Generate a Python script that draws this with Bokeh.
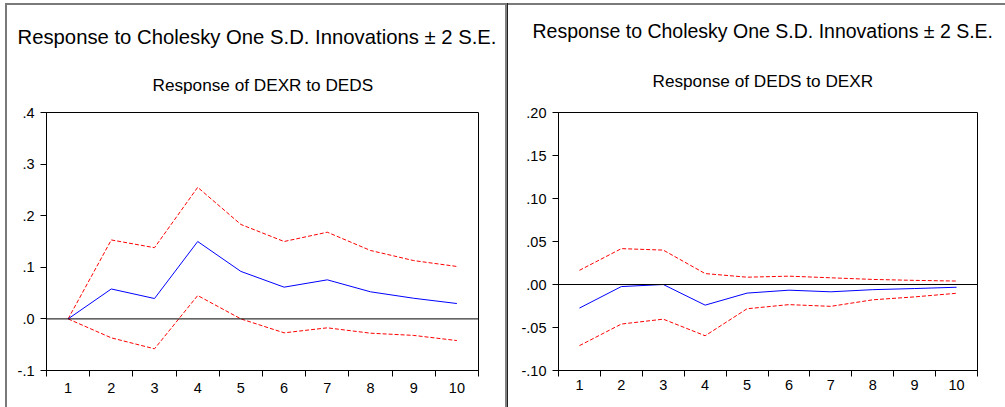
from bokeh.plotting import figure
from bokeh.layouts import row
from bokeh.models import Range1d, FixedTicker, Span, Title, InlineStyleSheet
from bokeh.embed import file_html
from bokeh.resources import INLINE

# ---------------- data ----------------
periods = [1, 2, 3, 4, 5, 6, 7, 8, 9, 10]
period_labels = ["1", "2", "3", "4", "5", "6", "7", "8", "9", "10"]

main_title = "Response to Cholesky One S.D. Innovations \u00b1 2 S.E."

# Response of DEXR to DEDS
dexr_title = "Response of DEXR to DEDS"
dexr_resp = [0.0, 0.058, 0.0395, 0.150, 0.092, 0.0615, 0.0757, 0.0525, 0.040, 0.0298]
dexr_upper = [0.0, 0.153, 0.138, 0.255, 0.183, 0.150, 0.168, 0.1326, 0.113, 0.1016]
dexr_lower = [0.0, -0.0367, -0.058, 0.0453, 0.0, -0.027, -0.0173, -0.0277, -0.032, -0.042]
dexr_yticks = [-0.1, 0.0, 0.1, 0.2, 0.3, 0.4]
dexr_ylabels = ["-.1", ".0", ".1", ".2", ".3", ".4"]

# Response of DEDS to DEXR
deds_title = "Response of DEDS to DEXR"
deds_resp = [-0.0274, -0.0024, 0.0, -0.024, -0.010, -0.0066, -0.0085, -0.006, -0.0047, -0.0032]
deds_upper = [0.0165, 0.0417, 0.040, 0.0127, 0.0085, 0.0097, 0.0078, 0.0059, 0.0048, 0.004]
deds_lower = [-0.0711, -0.046, -0.0403, -0.0596, -0.0282, -0.0234, -0.0254, -0.0178, -0.0144, -0.0102]
deds_yticks = [-0.10, -0.05, 0.0, 0.05, 0.10, 0.15, 0.20]
deds_ylabels = ["-.10", "-.05", ".00", ".05", ".10", ".15", ".20"]

FONT = "Liberation Sans"


def make_panel(w, h, borders, yticks, ylabels, resp, upper, lower, sub_text,
               main_size, main_offset, main_standoff, sub_offset, sub_standoff,
               x_standoff, css):
    bl, br, bt, bb = borders
    p = figure(width=w, height=h, title=None,
               x_range=Range1d(periods[0] - 0.5, periods[-1] + 0.5),
               y_range=Range1d(yticks[0], yticks[-1]),
               output_backend="svg", toolbar_location=None,
               min_border_left=bl, min_border_right=br,
               min_border_top=bt, min_border_bottom=bb,
               border_fill_color=None, background_fill_color="white",
               outline_line_color="black", outline_line_width=1,
               stylesheets=[InlineStyleSheet(css=css)])
    p.grid.visible = False

    # subtitle (closest to the frame), then main title
    p.add_layout(Title(text=sub_text, text_font=FONT, text_font_size="17.2px",
                       text_font_style="normal", text_color="black",
                       align="left", offset=sub_offset, standoff=sub_standoff,
                       vertical_align="middle"), "above")
    p.add_layout(Title(text=main_title, text_font=FONT, text_font_size=main_size,
                       text_font_style="normal", text_color="black",
                       align="left", offset=main_offset, standoff=main_standoff,
                       vertical_align="middle"), "above")

    bounds = [x - 0.5 for x in periods] + [periods[-1] + 0.5]
    xa = p.xaxis[0]
    xa.axis_label = None
    xa.axis_label_standoff = 0
    xa.ticker = FixedTicker(ticks=periods, minor_ticks=bounds)
    xa.major_label_overrides = {x: l for x, l in zip(periods, period_labels)}
    xa.major_tick_line_color = None
    xa.major_tick_out = 6
    xa.major_tick_in = 0
    xa.minor_tick_line_color = "black"
    xa.minor_tick_out = 6
    xa.minor_tick_in = 0
    xa.major_label_standoff = x_standoff
    xa.axis_line_color = "black"
    xa.major_label_text_font = FONT
    xa.major_label_text_font_size = "14.5px"
    xa.major_label_text_color = "black"

    ya = p.yaxis[0]
    ya.ticker = FixedTicker(ticks=yticks)
    ya.major_label_overrides = {v: l for v, l in zip(yticks, ylabels)}
    ya.major_tick_out = 6
    ya.major_tick_in = 0
    ya.major_tick_line_color = "black"
    ya.minor_tick_line_color = None
    ya.major_label_standoff = 6
    ya.axis_line_color = "black"
    ya.major_label_text_font = FONT
    ya.major_label_text_font_size = "14.5px"
    ya.major_label_text_color = "black"

    p.add_layout(Span(location=0, dimension="width", line_color="black", line_width=1))

    p.line(periods, upper, line_color="#FF0000", line_width=1, line_dash="4 2")
    p.line(periods, lower, line_color="#FF0000", line_width=1, line_dash="4 2")
    p.line(periods, resp, line_color="#0000FF", line_width=1)
    return p


css_left = (":host { background-image: linear-gradient(#7a7a7a,#7a7a7a), "
            "linear-gradient(#7a7a7a,#7a7a7a), linear-gradient(#808080,#808080); "
            "background-position: 5px 3px, 5px 3px, 505px 3px; "
            "background-size: 2px 100%, 100% 2px, 2px 100%; background-repeat: no-repeat; }")
css_right = (":host { background-image: linear-gradient(#202020,#202020), "
             "linear-gradient(#7a7a7a,#7a7a7a); "
             "background-position: 0px 3px, 0px 3px; "
             "background-size: 1px 100%, 100% 2px; background-repeat: no-repeat; }")

p1 = make_panel(507, 407, (46, 29, 112, 37), dexr_yticks, dexr_ylabels,
                dexr_resp, dexr_upper, dexr_lower, dexr_title,
                "20.3px", -29, 18, 106, 33, 6, css_left)
p2 = make_panel(498, 407, (51, 28, 110, 33), deds_yticks, deds_ylabels,
                deds_resp, deds_upper, deds_lower, deds_title,
                "19.5px", -26, 13, 94, 41, 3, css_right)

layout = row(p1, p2, spacing=0)
open("out.html", "w").write(file_html(layout, INLINE))
